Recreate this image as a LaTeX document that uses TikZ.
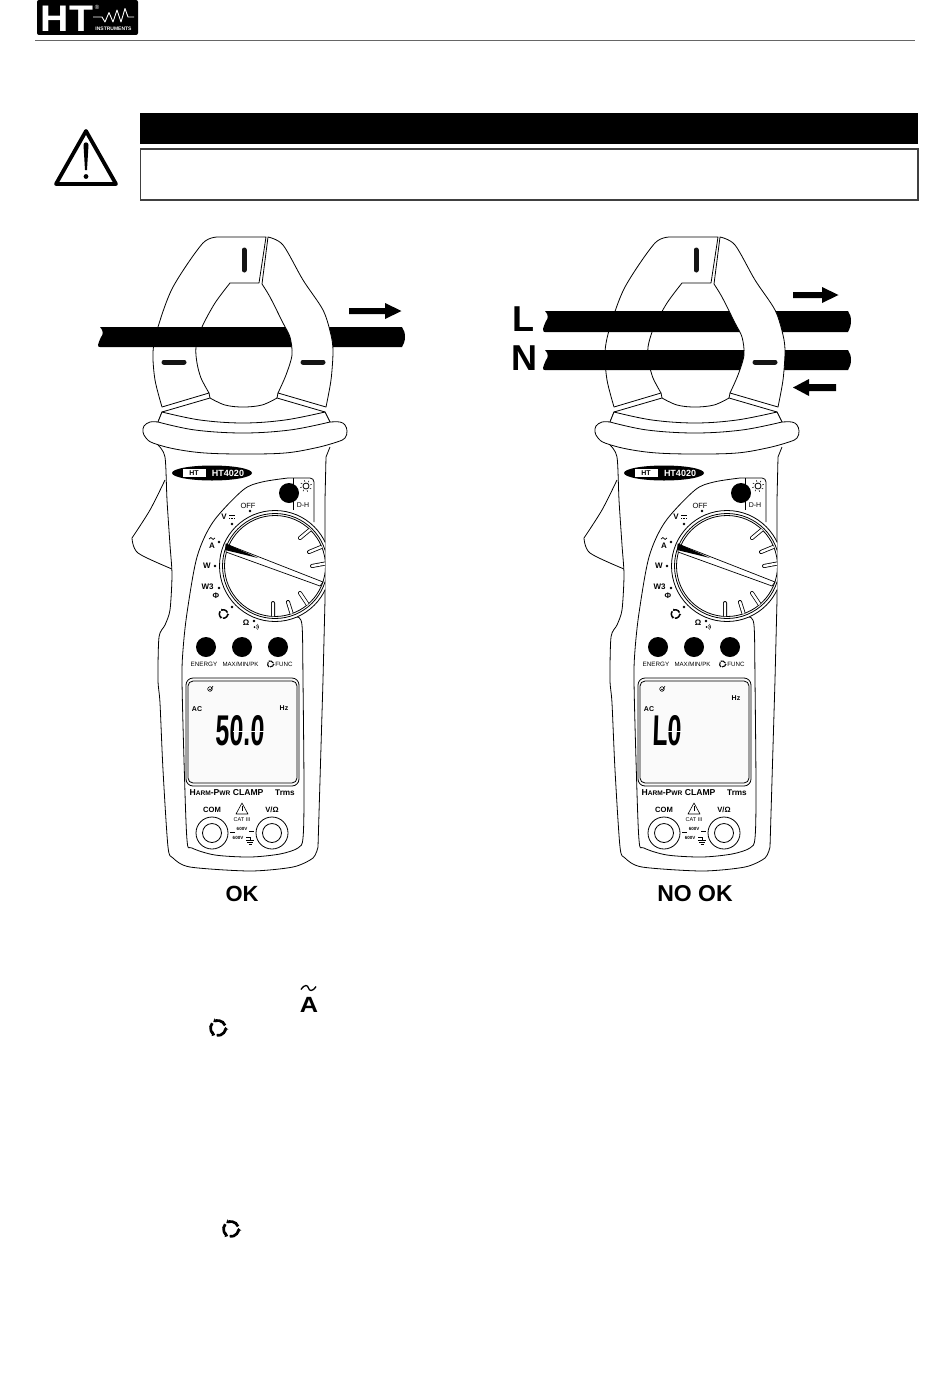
\documentclass[tikz,border=0pt]{standalone}
\usepackage{fontspec}
\setmainfont{Liberation Sans}
\newfontfamily\lcdf[BoldFeatures={FakeSlant=0.06}]{Liberation Sans}
\usetikzlibrary{arrows.meta}
\newcommand{\fs}[1]{\fontsize{#1}{#1}\selectfont}
\tikzset{
  txt/.style={inner sep=0pt,outer sep=0pt,text=black},
  ln/.style={draw=black,line width=0.8pt,line join=round},
  mark bar/.style={line width=5pt,line cap=round,draw=black!92},
  knob/.style={fill=black,draw=none}
}
% recycle symbol
\newcommand{\recyc}[3]{%
  \foreach \a in {100,220,340}{%
    \draw[black,line width=#3*0.36pt,-{Stealth[length=#3*0.42pt,width=#3*0.66pt]}]
      ([shift={(\a:#3)}]#1,#2) arc (\a:\a-108:#3);}}
% a little tilde
\newcommand{\tildemark}[4]{%
  \draw[black,line width=#4] (#1-#3,#2+#3*0.2) .. controls (#1-#3*0.5,#2-#3*0.55) and (#1-#3*0.1,#2-#3*0.4) .. (#1,#2)
     .. controls (#1+#3*0.1,#2+#3*0.4) and (#1+#3*0.5,#2+#3*0.55) .. (#1+#3,#2-#3*0.2);}
% cable: x-left, x-right, y-top, y-bottom
\newcommand{\wire}[4]{%
  \fill[black] (#1+2,#3) .. controls (#1+6,#3+4) and (#1+5,#3+8) .. (#1+3,#3+10)
    .. controls (#1+1,#3+13) and (#1+1,#3+16) .. (#1,#3+18)
    .. controls (#1,#4) and (#1+1,#4) .. (#1+2,#4)
    -- (#2-3,#4) .. controls (#2-1,#4-4) and (#2,#3+14) .. (#2,#3+10)
    .. controls (#2,#3+6) and (#2-1,#3+3) .. (#2-3,#3) -- cycle;}
% arrows for the current direction: x, y, shaft length
\newcommand{\rarrow}[3]{%
  \fill[black] (#1,#2-3) -- (#1+#3,#2-3) -- (#1+#3,#2-8) -- (#1+#3+16.5,#2) -- (#1+#3,#2+8) -- (#1+#3,#2+3) -- (#1,#2+3) -- cycle;}
% clamp, part behind the cables: prefix, reading, reading x, Hz x, Hz y, extras
\newcommand{\clampback}[6]{%
  % trigger
  \filldraw[ln,fill=white] plot[smooth,tension=0.5] coordinates {(165,480) (150,510) (132,538)} -- plot[smooth,tension=0.5] coordinates {(132,538) (138,553) (172,569)};
  % body
  \filldraw[ln,fill=white] plot[smooth,tension=0.45] coordinates {(158,445) (165,457) (167,500) (170,545) (172,575) (170,610) (165,625) (159,637) (158,680) (160,703) (163,770) (168,847) (173,858) (190,867) (250,871) (293,867) (313,858) (318,847)} -- (323,680) -- (325,600) -- (325,500) -- (326,457) -- (330,447);
  % collar
  \filldraw[ln,fill=white] plot[smooth,tension=0.6] coordinates {(158,422) (150,422) (144,426) (143,432) (146,438) (153,443) (175,449) (205,453) (245,454) (285,453) (315,448) (337,442) (345,438) (347,431) (345,425) (340,422) (330,422)} -- (325,412) -- (162,412) -- cycle;
  % panel
  \draw[ln] plot[smooth,tension=0.5] coordinates {(288,478) (262,482) (243,490) (213,522) (197,557) (187,613) (183,650) (182,680) (184,760) (187,840) (192,848) (215,855) (250,857) (280,854) (298,848) (303,838) (304,790) (303,680) (302,625) (297,617)};
  \draw[ln,rounded corners=4pt] (288,478) -- (314,478) -- (314,522);
  \draw[ln] (293,478) -- (293,510);
  % dial
  \begin{scope}
    \clip (200,500) rectangle (325,630);
    \filldraw[ln,fill=white] (275,566) circle (55.5);
    \draw[ln] (275,566) circle (52.5);
    \draw[ln] (275,566) circle (50.5);
    \begin{scope}
      \clip (275,566) circle (50.5);
      \draw[line width=4pt,line cap=round,black] (300,538) -- (312,528) (309,552) -- (326,545) (312,566) -- (328,563) (300,593) -- (310,608) (288,602) -- (293,618) (273,603) -- (273,620);
      \draw[line width=2.4pt,line cap=round,white] (300,538) -- (312,528) (309,552) -- (326,545) (312,566) -- (328,563) (300,593) -- (310,608) (288,602) -- (293,618) (273,603) -- (273,620);
    \end{scope}
    \filldraw[ln,line width=0.7pt,fill=white] (226,544) -- (323,582) -- (320,586) -- (226,552) -- cycle;
    \fill[black] (226,543.5) -- (258,558) -- (225,550) -- cycle;
  \end{scope}
  % small dots on the dial
  \foreach \x/\y in {250/511,232/524,219/542,215/566,219/588,232/607,254/621}{\fill[black] (\x,\y) circle (1.4);}
  % HT4020 badge
  \fill[black] (212,473) ellipse (40 and 7.5);
  \node[txt,text=white] (#1model) at (228,473) {\fs{9}\bfseries HT4020};
  \node[txt,fill=white,text=black,minimum width=23pt,minimum height=8pt] (#1badge) at (194,473) {\fs{7}\bfseries HT};
  % D-H key
  \fill[knob] (289,493) circle (10);
  \draw[ln] (306,486) circle (3);
  \foreach \a in {30,75,120,165,210,255,300,345}{\draw[black,line width=0.5pt] ([shift={(\a:4.2)}]306,486) -- ([shift={(\a:6)}]306,486);}
  \node[txt] (#1dh) at (303,505) {\fs{7}D-H};
  \node[txt] (#1off) at (248,506) {\fs{7.5}OFF};
  \node[txt] (#1v) at (224,517) {\fs{8}\bfseries V};
  \draw[black,line width=0.7pt] (229,515.5) -- (235,515.5);
  \draw[black,line width=0.7pt,densely dotted] (229,518.5) -- (235,518.5);
  \tildemark{212}{538.5}{3}{0.7pt}
  \node[txt] (#1a) at (212,545.5) {\fs{8}\bfseries A};
  \node[txt] (#1w) at (207,565.5) {\fs{8}\bfseries W};
  \node[txt] (#1wt) at (207.5,587) {\fs{8}\bfseries W3};
  \node[txt] (#1phi) at (216,596) {\fs{8}\bfseries Φ};
  \recyc{223.5}{614}{4.2}
  \node[txt] (#1om) at (246,623) {\fs{8}\bfseries Ω};
  \fill[black] (254.5,627) circle (1);
  \draw[black,line width=0.5pt] (256.5,625) arc (135:225:-2.5) (257.5,624) arc (135:225:-4);
  % keys
  \fill[knob] (206,647) circle (10);
  \fill[knob] (242,647) circle (10);
  \fill[knob] (278,647) circle (10);
  \node[txt] (#1en) at (204,664) {\fs{6.3}ENERGY};
  \node[txt] (#1mx) at (240.5,664) {\fs{6.1}MAX/MIN/PK};
  \recyc{270.5}{664}{3}
  \node[txt] (#1fn) at (284,664) {\fs{6.2}FUNC};
  % display
  \filldraw[ln,fill=black!2,rounded corners=7pt] (186,678) rectangle (299,786);
  \draw[ln,rounded corners=5pt] (188,681) rectangle (297,783);
  \draw[black,line width=0.6pt] (210,689) circle (2.3);
  \draw[black,line width=0.6pt] (209,689) -- (210.5,690) -- (213,686);
  \node[txt] (#1ac) at (197,709) {\fs{7}\bfseries AC};
  \node[txt] (#1hz) at (#4,#5) {\fs{7}\bfseries Hz};
  \node[txt] (#1rd) at (#3,731) {\scalebox{0.58}[1]{\fs{43}\lcdf\bfseries #2}};
  #6
  % bottom labels
  \node[txt] (#1hp) at (226.5,793) {\bfseries\fs{8.6}H{\fs{6.6}ARM}-P{\fs{6.6}WR} CLAMP};
  \node[txt] (#1tr) at (285,793) {\fs{8.2}\bfseries Trms};
  \node[txt] (#1com) at (212,810) {\fs{7.6}\bfseries COM};
  \node[txt] (#1vo) at (272,810) {\fs{7.6}\bfseries V/Ω};
  \draw[black,line width=0.6pt,line join=round] (242,803) -- (248,814) -- (236,814) -- cycle;
  \draw[black,line width=0.7pt] (242,806) -- (242,811);
  \node[txt] (#1cat) at (242,820) {\fs{5.5}CAT III};
  \node[txt] (#1six) at (242,829) {\fs{4.5}\bfseries 600V};
  \node[txt] (#1sixb) at (238,838) {\fs{4.5}\bfseries 600V};
  \draw[black,line width=0.5pt] (230,832) -- (235,832) (249,831) -- (254,831) (246,837) -- (250,837) -- (250,840) (246,840) -- (254,840) (247,842) -- (253,842) (248.5,844) -- (251.5,844);
  \draw[ln] (212,833) circle (16);
  \draw[ln] (212,833) circle (9.5);
  \draw[ln] (272,833) circle (16);
  \draw[ln] (272,833) circle (9.5);
  % lower jaw piece
  \filldraw[ln,fill=white] (162,412) -- (158,422) -- plot[smooth,tension=0.6] coordinates {(158,422) (195,430) (243,433) (290,430) (330,422)} -- (325,412) -- cycle;
  \filldraw[ln,fill=white] plot[smooth,tension=0.6] coordinates {(162,412) (200,420) (243,423) (285,420) (325,412)} -- (277,398)
     -- plot[smooth,tension=0.6] coordinates {(277,398) (262,405) (243,407) (225,405) (210,398)} -- cycle;
  % left jaw
  \filldraw[ln,fill=white] plot[smooth,tension=0.5] coordinates {(162,407) (155,380) (153,352) (158,327) (173,287) (203,243) (220,237)} -- (266,237) -- (259,283) -- (230,283)
     -- plot[smooth,tension=0.5] coordinates {(230,283) (215,303) (202,327) (196,347) (197,363) (201,378) (209,393)} -- cycle;
  \draw[ln] (209,393) -- (210,398);
  \draw[mark bar] (244,250) -- (244,270);
  \draw[mark bar] (164,362) -- (184,362);
}
% clamp, part in front of the cables
\newcommand{\clampfront}{%
  \filldraw[ln,fill=white] plot[smooth,tension=0.5] coordinates {(268,237) (283,245) (303,280) (323,310) (331,335) (333,352) (331,380) (326,407)} -- (278,393)
     -- plot[smooth,tension=0.5] coordinates {(278,393) (286,375) (292,355) (290,337) (283,323) (270,297) (262,284)} -- cycle;
  \draw[ln] (278,393) -- (277,398);
  \draw[mark bar] (303,362) -- (323,362);
}
\begin{document}
\begin{tikzpicture}[x=1pt,y=-1pt]
\useasboundingbox (0,0) rectangle (950,1397);
\fill[white] (0,0) rectangle (950,1397);
% header logo
\fill[black,rounded corners=2pt] (37,0) rectangle (138,35);
\node[txt,text=white] (brand) at (67,18.5) {\scalebox{1.06}[1]{\fs{37}\bfseries HT}};
\node[txt,text=white] (regmark) at (97,7) {\fs{6}®};
\draw[white,line width=0.9pt,line join=round] (93,17) -- (102,17) -- (105,22) -- (109,12.5) -- (113,22) -- (117,10) -- (121,22) -- (125,8.5) -- (128,17) -- (134,17);
\node[txt,text=white] (inst) at (113.5,28.5) {\fs{5}\bfseries INSTRUMENTS};
\draw[black!60,line width=1pt] (35,41) -- (915,41);
% warning
\draw[black,line width=3.8pt,line join=round] (86,131) -- (116,184) -- (56,184) -- cycle;
\fill[black] (83.5,145) .. controls (83.5,141.5) and (88.5,141.5) .. (88.5,145) -- (87,170) -- (85,170) -- cycle;
\fill[black] (86,176.5) circle (2.4);
\fill[black] (140,113) rectangle (918,144);
\draw[black!75,line width=1.2pt] (140.5,149) rectangle (918,200);
% left clamp
\clampback{a}{50.0}{240}{284}{708}{\draw[white,line width=1pt] (233,731) -- (264,731);}
\wire{98}{405}{327}{347}
\clampfront
\rarrow{349}{311}{36}
\node[txt] (okl) at (242,894) {\fs{22}\bfseries OK};
% right clamp
\begin{scope}[xshift=452pt]
\clampback{b}{L0}{215}{284}{698}{\draw[white,line width=1pt] (215,731) -- (231,731);}
\end{scope}
\wire{543}{851}{311}{332}
\wire{543}{851}{350}{370}
\begin{scope}[xshift=452pt]
\clampfront
\end{scope}
\rarrow{793}{295}{29}
\node[txt] (lab) at (523,319) {\fs{36}\bfseries L};
\node[txt] (nab) at (524,358) {\fs{36}\bfseries N};
\fill[black] (836,384) -- (809,384) -- (809,379) -- (793,387.5) -- (809,396) -- (809,391) -- (836,391) -- cycle;
\node[txt] (okr) at (695,894) {\fs{23}\bfseries NO OK};
% icons in the text area
\tildemark{308.5}{988}{7.5}{1.3pt}
\node[txt] (ampere) at (309,1005) {\scalebox{1.15}[1]{\fs{22}\bfseries A}};
\recyc{218}{1028}{7.5}
\recyc{231}{1229}{7.5}
\end{tikzpicture}
\end{document}
